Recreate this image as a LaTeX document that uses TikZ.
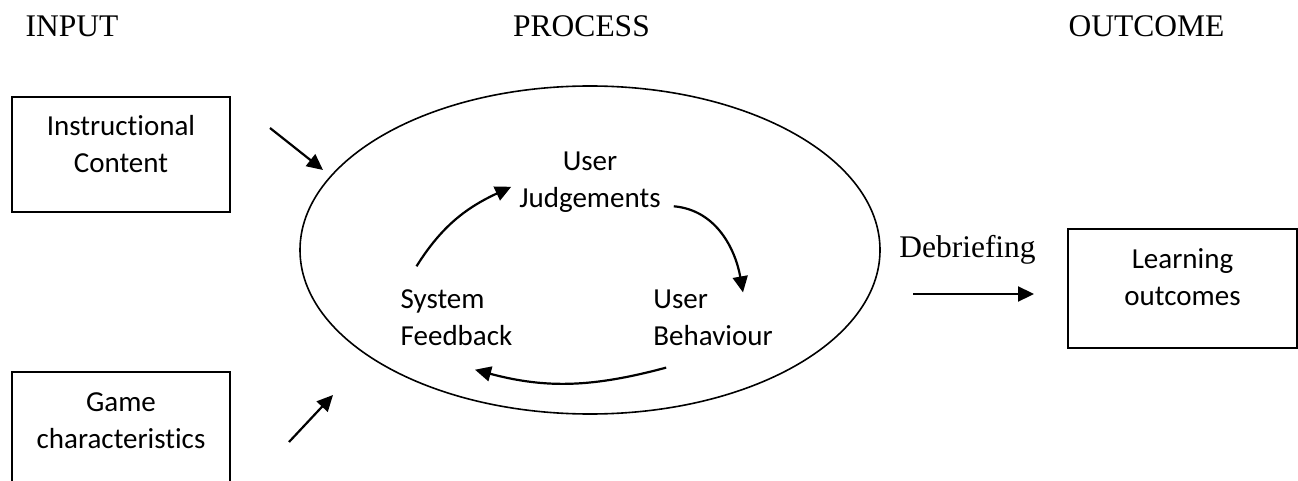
\documentclass[tikz,border=0pt]{standalone}
\usepackage{fontspec}
\setmainfont{Liberation Serif}
\newfontfamily\calibri[Ligatures=NoCommon]{Carlito}
\usetikzlibrary{arrows.meta,shapes.geometric}
\begin{document}
\begin{tikzpicture}[x=1pt,y=-1pt,
  box/.style={draw, line width=1.6pt, inner sep=0pt},
  lbl/.style={font=\calibri\fontsize{29}{37}\selectfont, inner sep=0pt},
  head/.style={font=\fontsize{31.5}{38}\selectfont, inner sep=0pt, anchor=base},
  arr/.style={line width=2.2pt, -{Triangle[length=16pt,width=15pt]}}]
\fill[white] (0,0) rectangle (1298,481);
\useasboundingbox (0,0) rectangle (1298,481);
% headings
\node[head] (input) at (72,37) {INPUT};
\node[head] (process) at (581.5,37) {PROCESS};
\node[head] (outcome) at (1146.5,37) {OUTCOME};
% inputs
\node[box, minimum width=218pt, minimum height=115pt] (instr) at (121,154.5) {};
\node[lbl, align=center] (instrtxt) at (121,144) {Instructional\\Content};
\node[box, minimum width=218pt, minimum height=115pt] (game) at (121,429.5) {};
\node[lbl, align=center] (gametxt) at (121,420.4) {Game\\characteristics};
% process
\node[ellipse, draw, line width=1.6pt, minimum width=580pt, minimum height=328pt, inner sep=0pt] (proc) at (590,250) {};
\node[lbl, align=center] (uj) at (590,181.8) {User\\Judgements};
\node[lbl, align=left] (sf) at (456.5,317.5) {System\\Feedback};
\node[lbl, align=left] (ub) at (713,317.5) {User\\Behaviour};
% outcome
\node[head] (debrief) at (967.5,257) {Debriefing};
\node[box, minimum width=229pt, minimum height=119pt] (learn) at (1182.5,288.5) {};
\node[lbl, align=center] (learntxt) at (1182.5,277) {Learning\\outcomes};
% free arrow ends
\coordinate (ia) at (270,128);
\coordinate (ib) at (323,170);
\coordinate (ga) at (289,442);
\coordinate (gb) at (333,395);
\coordinate (da) at (913,294);
\coordinate (db) at (1034,294);
\draw[arr] (ia) -- (ib);
\draw[arr] (ga) -- (gb);
\draw[arr] (da) -- (db);
% cycle
\draw[arr] ([shift={(16,-23)}]sf.north west) to[out=58,in=205] ([shift={(-8,5)}]uj.west);
\draw[arr] ([shift={(13,-6)}]uj.south east) to[out=-5,in=100] ([shift={(30,3)}]ub.north);
\draw[arr] ([shift={(13,22)}]ub.south west) to[out=-165,in=-15] ([shift={(18.5,24)}]sf.south);
\end{tikzpicture}
\end{document}
